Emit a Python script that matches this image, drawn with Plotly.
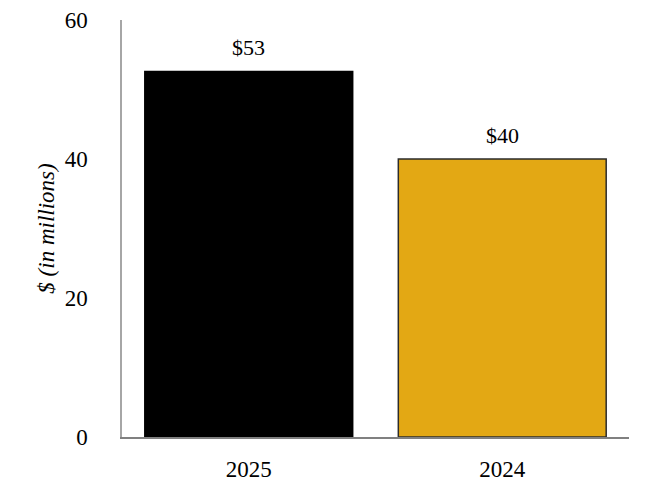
import plotly.graph_objects as go

categories = ["2025", "2024"]
values = [52.6, 40.0]
labels = ["$53", "$40"]
colors = ["#000000", "#E3A814"]
y_ticks = [0, 20, 40, 60]

FONT = "Liberation Serif, Times New Roman, serif"
positions = list(range(len(categories)))

fig = go.Figure()
fig.add_trace(go.Bar(
    x=positions, y=values, width=0.82,
    marker=dict(color=colors, line=dict(color=["#000000", "#2b2b2b"], width=1.5)),
    hoverinfo="skip",
))
for p, v, t in zip(positions, values, labels):
    fig.add_annotation(x=p, y=v, xref="x", yref="y", text=t, showarrow=False,
                       yanchor="bottom", yshift=9,
                       font=dict(family=FONT, size=22, color="#000"))

fig.update_layout(
    width=642, height=492,
    margin=dict(l=114, r=21, t=12, b=63, autoexpand=False),
    paper_bgcolor="white", plot_bgcolor="white",
    showlegend=False,
    font=dict(family=FONT, size=22, color="#000"),
    xaxis=dict(
        range=[-0.5, len(categories) - 0.5],
        tickvals=positions, ticktext=categories,
        showline=True, linecolor="#808080", linewidth=2,
        showgrid=False, zeroline=False,
        ticks="outside", ticklen=10, tickcolor="rgba(0,0,0,0)",
        tickfont=dict(family=FONT, size=23),
    ),
    yaxis=dict(
        range=[0, 60], tickvals=y_ticks,
        showline=True, linecolor="#a6a6a6", linewidth=1.5,
        showgrid=False, zeroline=False,
        ticks="outside", ticklen=28, tickcolor="rgba(0,0,0,0)",
        ticklabeloverflow="allow",
        tickfont=dict(family=FONT, size=23),
        title=dict(text="<i>$ (in millions)</i>", font=dict(family=FONT, size=23), standoff=4),
    ),
)
fig.write_html("out.html")
